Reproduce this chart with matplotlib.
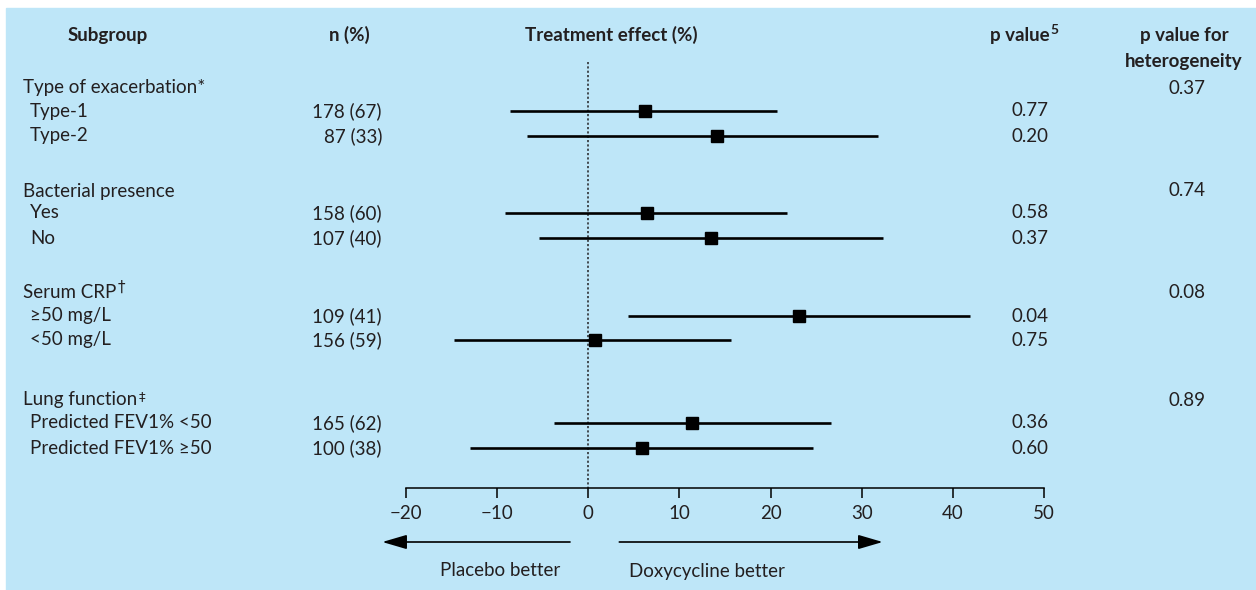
import numpy as np
import matplotlib
matplotlib.use("Agg")
import matplotlib.pyplot as plt
from matplotlib.patches import Rectangle

plt.rcParams['font.family'] = ['Lato', 'DejaVu Sans']

# data
groups = ['Type of exacerbation*', 'Bacterial presence',
          'Serum CRP', 'Lung function']
group_marks = ['', '', '\u2020', '\u2021']
p_het = ['0.37', '0.74', '0.08', '0.89']
subgroups = ['Type-1', 'Type-2', 'Yes', 'No', '\u226550 mg/L', '<50 mg/L',
             'Predicted FEV1% <50', 'Predicted FEV1% \u226550']
n_pct = ['178 (67)', '87 (33)', '158 (60)', '107 (40)',
         '109 (41)', '156 (59)', '165 (62)', '100 (38)']
effect = [6.2, 14.1, 6.4, 13.5, 23.1, 0.7, 11.4, 5.9]
ci_low = [-8.6, -6.7, -9.1, -5.4, 4.4, -14.7, -3.8, -13.0]
ci_high = [20.7, 31.8, 21.8, 32.3, 41.9, 15.7, 26.6, 24.7]
p_value = ['0.77', '0.20', '0.58', '0.37', '0.04', '0.75', '0.36', '0.60']
xticks = [-20, -10, 0, 10, 20, 30, 40, 50]

# layout (pixel rows)
W, H = 1256, 590
group_y = [88, 191, 293, 400]
row_y = [111, 136, 213, 238, 316, 340, 423, 448]
axis_y = 488
txt = '#231f20'
fs = 13.5

fig = plt.figure(figsize=(W / 100, H / 100), dpi=100)
fig.patch.set_facecolor('white')
rend = fig.canvas.get_renderer()

# background / text layer in pixel coords
bg = fig.add_axes([0, 0, 1, 1])
bg.set_xlim(0, W)
bg.set_ylim(H, 0)
bg.axis('off')
bg.add_patch(Rectangle((6, 8), W - 6, H - 8, color='#bee6f8', zorder=0))

# headers
bg.text(108, 35, 'Subgroup', ha='center', va='center', fontsize=fs, fontweight='bold', color=txt)
bg.text(349, 35, 'n (%)', ha='center', va='center', fontsize=fs, fontweight='bold', color=txt)
bg.text(611, 35, 'Treatment effect (%)', ha='center', va='center', fontsize=fs, fontweight='bold', color=txt)
pv = bg.text(990, 35, 'p value', ha='left', va='center', fontsize=fs, fontweight='bold', color=txt)
bg.text(pv.get_window_extent(renderer=rend).x1 + 1, 30, '5', ha='left', va='center',
        fontsize=10, fontweight='bold', color=txt)
bg.text(1184, 35, 'p value for', ha='center', va='center', fontsize=fs, fontweight='bold', color=txt)
bg.text(1184, 61, 'heterogeneity', ha='center', va='center', fontsize=fs, fontweight='bold', color=txt)

for g, mk, ph, gy in zip(groups, group_marks, p_het, group_y):
    t = bg.text(23, gy, g, ha='left', va='center', fontsize=fs, color=txt)
    if mk:
        x_end = t.get_window_extent(renderer=rend).x1
        dy = -6 if mk == '\u2020' else -3
        bg.text(x_end + 1, gy + dy, mk, ha='left', va='center',
                fontsize=11 if mk == '\u2020' else 9.5, color=txt,
                family=['DejaVu Sans'])
    bg.text(1187, gy, ph, ha='center', va='center', fontsize=fs, color=txt)

for s, n, p, ry in zip(subgroups, n_pct, p_value, row_y):
    bg.text(30, ry, s, ha='left', va='center', fontsize=fs, color=txt)
    bg.text(382, ry, n, ha='right', va='center', fontsize=fs, color=txt)
    bg.text(1011, ry, p, ha='left', va='center', fontsize=fs, color=txt)

# forest axes: x in treatment effect units, y in pixel rows
ax = fig.add_axes([406 / W, 0, (1044 - 406) / W, 1])
ax.set_facecolor('none')
ax.set_xlim(-20, 50)
ax.set_ylim(H, 0)

ax.plot([0, 0], [62, axis_y], color='#3a3f44', lw=1.3, linestyle=(0, (1.2, 1.2)))
ax.hlines(row_y, ci_low, ci_high, color='black', lw=1.9)
ax.plot(effect, row_y, 's', color='black', markersize=9)

for side in ['top', 'left', 'right']:
    ax.spines[side].set_visible(False)
ax.spines['bottom'].set_position(('data', axis_y))
ax.spines['bottom'].set_bounds(-20, 50)
ax.spines['bottom'].set_linewidth(1.1)
ax.set_yticks([])
ax.set_xticks(xticks)
ax.tick_params(axis='x', direction='out', length=7.5, width=1.1, pad=5,
               labelsize=fs, labelcolor=txt)

# direction arrows
ax.annotate('', xy=(-22.9, 542), xytext=(-1.7, 542), annotation_clip=False,
            arrowprops=dict(arrowstyle='-|>,head_length=0.75,head_width=0.22',
                            mutation_scale=20, color='black', lw=1.2))
ax.annotate('', xy=(32.6, 542), xytext=(3.1, 542), annotation_clip=False,
            arrowprops=dict(arrowstyle='-|>,head_length=0.75,head_width=0.22',
                            mutation_scale=20, color='black', lw=1.2))
bg.text(500, 571, 'Placebo better', ha='center', va='center', fontsize=fs, color=txt)
bg.text(707, 571, 'Doxycycline better', ha='center', va='center', fontsize=fs, color=txt)

fig.savefig('out.png', dpi=100, facecolor='white')
